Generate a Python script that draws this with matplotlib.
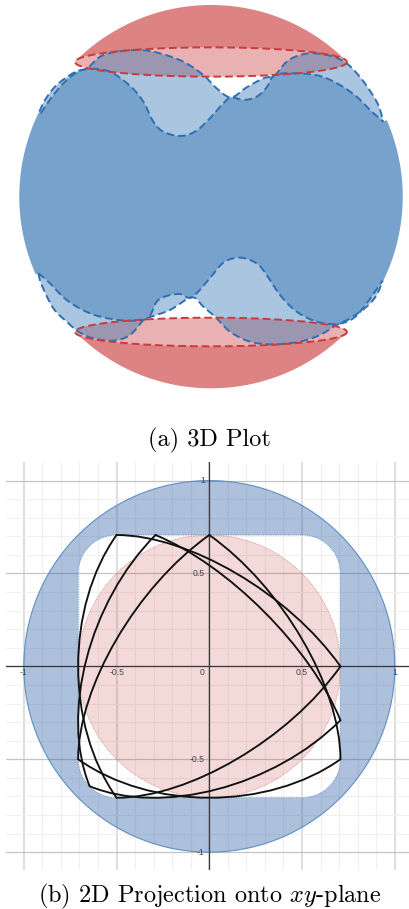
import numpy as np
import matplotlib
matplotlib.use("Agg")
import matplotlib.pyplot as plt
from matplotlib.path import Path
from matplotlib.patches import PathPatch, Polygon

plt.rcParams['mathtext.fontset'] = 'cm'

# top panel curves (x, y in 3x pixels)
upper_light = [(118,335),(135,300),(165,260),(205,228),(235,212),(262,205),(300,170),(350,155),
               (420,150),(480,160),(550,185),(610,225),(650,265),(693,292),(740,262),(790,235),
               (825,225),(860,185),(900,165),(945,160),(1000,170),(1040,190),(1075,225),
               (1105,265),(1135,315),(1150,365)]
upper_dark = [(122,340),(160,285),(200,240),(235,215),(260,207),(300,208),(340,220),(395,262),
              (430,305),(460,365),(490,395),(540,408),(585,395),(625,360),(665,315),(693,292),
              (730,300),(770,290),(800,262),(825,225),(890,220),(960,228),(1020,255),(1070,290),
              (1110,330),(1150,365)]
lower_light = [(115,820),(125,855),(160,925),(200,965),(235,995),(280,1015),(340,1022),(390,1005),
               (430,960),(445,953),(510,930),(575,892),(610,920),(650,955),(690,995),(750,1025),
               (820,1033),(900,1025),(960,1005),(1010,975),(1050,955),(1100,920),(1130,885),(1148,842)]
lower_dark = [(115,820),(145,845),(200,900),(270,940),(340,958),(400,962),(445,953),(470,905),
              (500,888),(540,882),(575,892),(625,840),(670,788),(720,773),(770,790),(800,825),
              (840,885),(890,935),(950,965),(1010,972),(1060,955),(1100,910),(1148,842)]

# sphere outline and cap rims
sphere_x, sphere_y, sphere_r = 633, 590, 575
rim_x, rim_rx = 633, 408
rim_top_y, rim_top_ry = 186, 44
rim_bot_y, rim_bot_ry = 996, 43

# bottom panel
xticks = np.arange(-10, 11) / 10
yticks = np.arange(-10, 11) / 10
tick_values = [-1, -0.5, 0.5, 1]
disc_r = 0.707
square_half = 0.707
corner_r = 0.207
triangles = [
    [(0, .707), (.707, -.5), (-.707, -.5)],
    [(-.29, .707), (.707, -.29), (-.645, -.645)],
    [(-.5, .707), (.707, 0), (-.5, -.707)],
]

BLUE = (42/255, 110/255, 177/255)
RED = (202/255, 62/255, 62/255)
DASH_BLUE = '#2f70b4'
DASH_RED = '#cc3a3a'


def smooth(pts, n=12):
    # catmull-rom through the read points, just to round off the polyline
    p = np.array(pts, float)
    p = np.vstack([2*p[0]-p[1], p, 2*p[-1]-p[-2]])
    out = []
    t = np.linspace(0, 1, n, endpoint=False)[:, None]
    for i in range(1, len(p)-2):
        p0, p1, p2, p3 = p[i-1], p[i], p[i+1], p[i+2]
        out.append(0.5*(2*p1 + (p2-p0)*t + (2*p0-5*p1+4*p2-p3)*t**2 + (-p0+3*p1-3*p2+p3)*t**3))
    out.append(p[-2:-1])
    return np.vstack(out)


def sphere_arc(a0, a1, n=80):
    t = np.radians(np.linspace(a0, a1, n))
    return np.c_[sphere_x + sphere_r*np.cos(t), sphere_y + sphere_r*np.sin(t)]


def angle_of(pt):
    return np.degrees(np.arctan2(pt[1]-sphere_y, pt[0]-sphere_x))


def rim(cy, ry, a0=0, a1=360, n=200):
    t = np.radians(np.linspace(a0, a1, n))
    return np.c_[rim_x + rim_rx*np.cos(t), cy + ry*np.sin(t)]


def blob(top, bottom):
    # region between a top curve and a bottom curve, closed along the sphere edge
    right = sphere_arc(angle_of(top[-1]), angle_of(bottom[-1]), 40)
    left = sphere_arc(angle_of(bottom[0]) % 360, angle_of(top[0]) % 360, 40)
    return np.vstack([smooth(top), right, smooth(bottom)[::-1], left])


def arc_path(a, b):
    # quarter of a projected great circle, a and b are conjugate radii
    a, b = np.array(a), np.array(b)
    k = 0.5523
    return [a, a + k*b, b + k*a, b]


fig = plt.figure(figsize=(4.09, 9.09), dpi=100)

# ---- (a) 3D plot
ax = fig.add_axes([0, 1 - 460/909, 1, 460/909])
ax.set_xlim(0, 1227)
ax.set_ylim(1380, 0)
ax.axis('off')

top_a = angle_of((rim_x - rim_rx, rim_top_y)) % 360
top_b = angle_of((rim_x + rim_rx, rim_top_y)) % 360
cap_top = np.vstack([sphere_arc(top_a, top_b), rim(rim_top_y, rim_top_ry, 360, 180)])
bot_a = angle_of((rim_x + rim_rx, rim_bot_y))
bot_b = angle_of((rim_x - rim_rx, rim_bot_y))
cap_bot = np.vstack([sphere_arc(bot_a, bot_b), rim(rim_bot_y, rim_bot_ry, 180, 0)])

for cap in (cap_top, cap_bot):
    ax.add_patch(Polygon(cap, fc=RED, ec='none', alpha=0.64, zorder=1))
ax.add_patch(Polygon(rim(rim_top_y, rim_top_ry), fc=RED, ec='none', alpha=0.4, zorder=1))
ax.add_patch(Polygon(rim(rim_bot_y, rim_bot_ry), fc=RED, ec='none', alpha=0.4, zorder=1))

ax.add_patch(Polygon(blob(upper_light, lower_light), fc=BLUE, ec='none', alpha=0.4, zorder=2))
ax.add_patch(Polygon(blob(upper_dark, lower_dark), fc=BLUE, ec='none', alpha=0.4, zorder=2))

for curve in (upper_light, upper_dark, lower_light, lower_dark):
    c = smooth(curve)
    ax.plot(c[:, 0], c[:, 1], color=DASH_BLUE, lw=1.4, ls=(0, (4, 2)), zorder=3)
for cy, ry in ((rim_top_y, rim_top_ry), (rim_bot_y, rim_bot_ry)):
    c = rim(cy, ry)
    ax.plot(c[:, 0], c[:, 1], color=DASH_RED, lw=1.4, ls=(0, (4, 2)), zorder=4)

# ---- (b) projection
ax2 = fig.add_axes([6/409, 1 - 870/909, 403/409, 408/909])
ax2.set_xlim(-1.096, 1.0766)
ax2.set_ylim(-1.096, 1.10)
ax2.axis('off')

for v in xticks:
    major = abs(v*2 - round(v*2)) < 1e-9
    ax2.axvline(v, color='#dedede' if major else '#f0f0f0', lw=1.5 if major else 0.9, zorder=0)
for v in yticks:
    major = abs(v*2 - round(v*2)) < 1e-9
    ax2.plot([-1.096, 1.0766], [v, v], color='#c4c4c4' if major else '#f0f0f0',
             lw=0.9 if major else 0.8, zorder=0)

t = np.linspace(0, 2*np.pi, 361)
circle = np.c_[np.cos(t), np.sin(t)]
h, r = square_half, corner_r
corners = [(h-r, h-r, 90, 0), (h-r, -h+r, 0, -90), (-h+r, -h+r, -90, -180), (-h+r, h-r, 180, 90)]
square = []
for cx, cy, a0, a1 in corners:
    th = np.radians(np.linspace(a0, a1, 30))
    square.append(np.c_[cx + r*np.cos(th), cy + r*np.sin(th)])
square = np.vstack(square + [square[0][:1]])

verts = np.vstack([circle, square])
codes = [Path.MOVETO] + [Path.LINETO]*(len(circle)-1) + [Path.MOVETO] + [Path.LINETO]*(len(square)-1)
ax2.add_patch(PathPatch(Path(verts, codes), fc=(50/255, 100/255, 170/255), ec='none', alpha=0.4, zorder=1))
ax2.plot(circle[:, 0], circle[:, 1], color='#5f8fc4', lw=0.8, zorder=2)
ax2.plot(square[:, 0], square[:, 1], color='#5f8fc4', lw=0.6, ls=(0, (1, 1)), zorder=2)

ax2.fill(disc_r*circle[:, 0], disc_r*circle[:, 1], fc=(199/255, 68/255, 64/255), ec='none', alpha=0.2, zorder=1)
ax2.plot(disc_r*circle[:, 0], disc_r*circle[:, 1], color='#d88a88', lw=0.6, ls=(0, (1, 1)), zorder=2)

ax2.axhline(0, color='#3a3a3a', lw=0.9, zorder=3)
ax2.axvline(0, color='#3a3a3a', lw=0.9, zorder=3)

for tri in triangles:
    for i in range(3):
        pts = arc_path(tri[i], tri[(i+1) % 3])
        ax2.add_patch(PathPatch(Path(pts, [Path.MOVETO, Path.CURVE4, Path.CURVE4, Path.CURVE4]),
                                fc='none', ec='#111111', lw=1.35, zorder=4, capstyle='round'))

label_font = dict(family='Liberation Sans', fontsize=6.2, color='#444444', zorder=5)
for v in tick_values:
    ax2.text(v, -0.035, f'{v:g}', ha='center', va='center', **label_font)
    ax2.text(-0.025, v, f'{v:g}', ha='right', va='center', **label_font)
ax2.text(-0.025, -0.035, '0', ha='right', va='center', **label_font)

fig.text(209/409, 1 - 446/909, '(a) 3D Plot', ha='center', va='baseline', family='cmr10', fontsize=17.5)
fig.text(210/409, 1 - 902/909, r'(b) 2D Projection onto $xy$-plane', ha='center', va='baseline',
         family='cmr10', fontsize=17.5)

fig.savefig('out.png', dpi=100)
